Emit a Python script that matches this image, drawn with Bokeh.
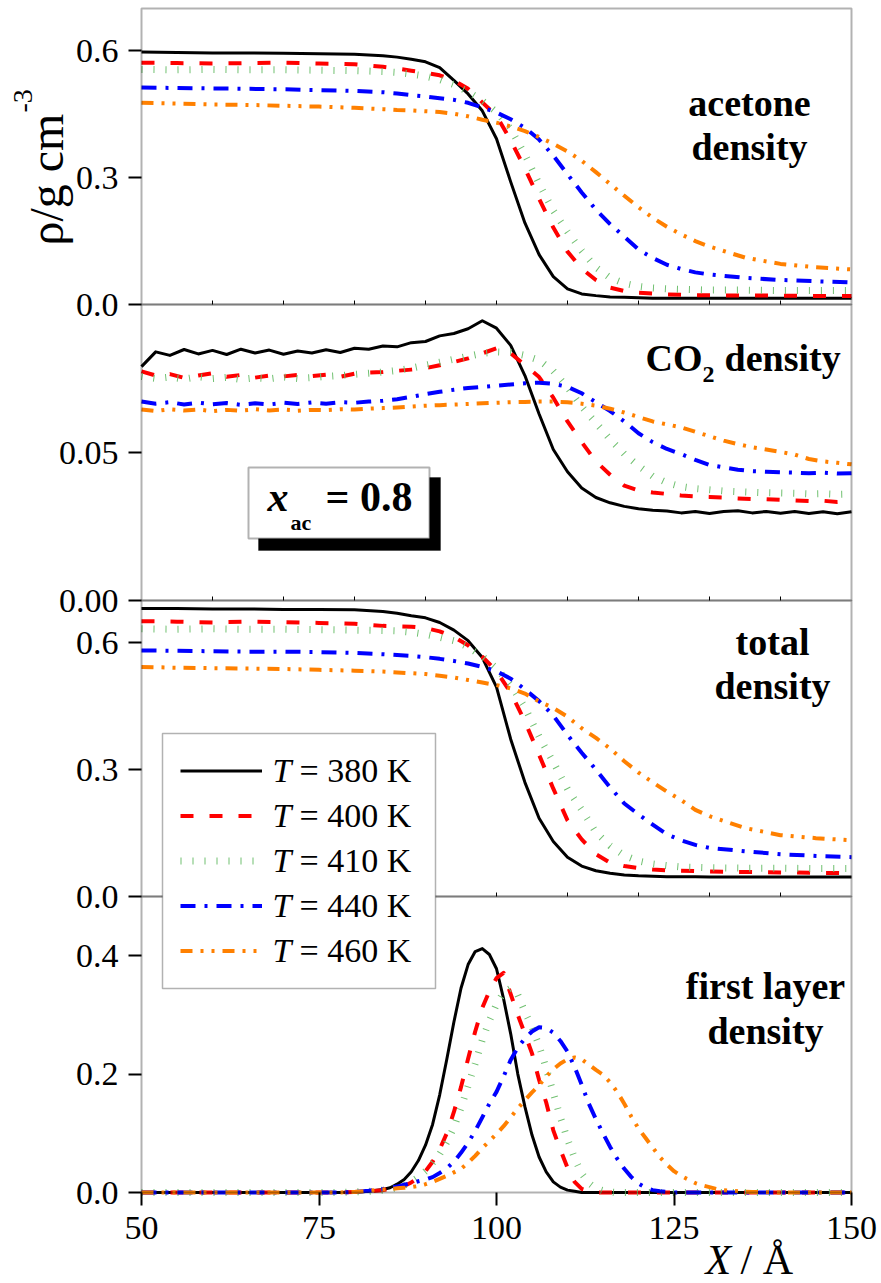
import math
from bokeh.plotting import figure
from bokeh.models import (Range1d, FixedTicker, Label, BoxAnnotation, LinearAxis,
                          PrintfTickFormatter, Legend, LegendItem)
from bokeh.embed import file_html
from bokeh.resources import INLINE

# ---------------------------------------------------------------- data
TEMPS = ["380", "400", "410", "440", "460"]

# acetone and total density profiles share this grid (Å)
X_PROFILE = [50, 55, 60, 65, 70, 75, 80,
             84, 86, 88, 90, 92, 94, 96, 98, 100, 102, 104, 106, 108, 110,
             112, 114, 116, 118, 120, 122, 124, 126, 128, 130,
             135, 140, 145, 150]

ACETONE_380 = [0.597, 0.596, 0.595, 0.595, 0.594, 0.593, 0.592,
               0.588, 0.585, 0.580, 0.574, 0.560, 0.530, 0.498, 0.458, 0.392, 0.290,
               0.193, 0.118, 0.066, 0.037, 0.025, 0.021, 0.018, 0.017, 0.016, 0.015,
               0.015, 0.015, 0.015, 0.015,
               0.015, 0.015, 0.015, 0.015]
ACETONE_400 = [0.572, 0.571, 0.570, 0.571, 0.572, 0.570, 0.568,
               0.562, 0.558, 0.553, 0.548, 0.542, 0.530, 0.510, 0.478, 0.446, 0.388,
               0.322, 0.250, 0.182, 0.125, 0.085, 0.058, 0.040, 0.032, 0.028, 0.026,
               0.024, 0.023, 0.022, 0.022,
               0.021, 0.021, 0.020, 0.020]
ACETONE_410 = [0.556, 0.555, 0.556, 0.555, 0.555, 0.554, 0.553,
               0.551, 0.549, 0.545, 0.540, 0.532, 0.520, 0.503, 0.482, 0.455, 0.415,
               0.355, 0.285, 0.222, 0.172, 0.127, 0.088, 0.063, 0.050, 0.043, 0.039,
               0.037, 0.036, 0.035, 0.034,
               0.034, 0.033, 0.033, 0.033]
ACETONE_440 = [0.513, 0.512, 0.511, 0.510, 0.509, 0.507, 0.505,
               0.502, 0.499, 0.495, 0.492, 0.488, 0.484, 0.477, 0.466, 0.454, 0.438,
               0.418, 0.390, 0.352, 0.308, 0.265, 0.224, 0.190, 0.160, 0.130, 0.110,
               0.094, 0.084, 0.076, 0.071,
               0.063, 0.058, 0.055, 0.052]
ACETONE_460 = [0.477, 0.475, 0.473, 0.472, 0.470, 0.468, 0.465,
               0.462, 0.460, 0.459, 0.457, 0.455, 0.451, 0.445, 0.437, 0.430, 0.421,
               0.410, 0.396, 0.380, 0.362, 0.340, 0.313, 0.285, 0.257, 0.230, 0.205,
               0.184, 0.166, 0.150, 0.137,
               0.111, 0.096, 0.088, 0.083]

TOTAL_380 = [0.681, 0.681, 0.680, 0.680, 0.679, 0.679, 0.678,
             0.674, 0.670, 0.664, 0.659, 0.648, 0.630, 0.605, 0.565, 0.495, 0.372,
             0.270, 0.185, 0.130, 0.093, 0.072, 0.061, 0.055, 0.051, 0.049, 0.048,
             0.047, 0.047, 0.047, 0.046,
             0.046, 0.046, 0.046, 0.046]
TOTAL_400 = [0.651, 0.650, 0.648, 0.650, 0.649, 0.647, 0.645,
             0.640, 0.639, 0.638, 0.635, 0.627, 0.614, 0.594, 0.567, 0.533, 0.482,
             0.414, 0.335, 0.255, 0.180, 0.135, 0.100, 0.080, 0.072, 0.067, 0.064,
             0.062, 0.061, 0.060, 0.059,
             0.058, 0.057, 0.056, 0.055]
TOTAL_410 = [0.633, 0.632, 0.633, 0.632, 0.632, 0.631, 0.630,
             0.629, 0.628, 0.625, 0.620, 0.613, 0.605, 0.590, 0.568, 0.540, 0.500,
             0.447, 0.378, 0.318, 0.254, 0.205, 0.152, 0.120, 0.097, 0.084, 0.077,
             0.073, 0.070, 0.069, 0.068,
             0.067, 0.067, 0.066, 0.066]
TOTAL_440 = [0.582, 0.581, 0.580, 0.579, 0.579, 0.578, 0.576,
             0.573, 0.571, 0.569, 0.566, 0.562, 0.557, 0.551, 0.543, 0.533, 0.515,
             0.490, 0.462, 0.428, 0.382, 0.340, 0.300, 0.258, 0.220, 0.194, 0.170,
             0.147, 0.133, 0.122, 0.115,
             0.107, 0.100, 0.096, 0.093]
TOTAL_460 = [0.543, 0.541, 0.540, 0.539, 0.538, 0.536, 0.534,
             0.532, 0.530, 0.528, 0.526, 0.522, 0.518, 0.512, 0.506, 0.500, 0.492,
             0.480, 0.461, 0.446, 0.425, 0.398, 0.375, 0.350, 0.320, 0.293, 0.270,
             0.248, 0.228, 0.205, 0.190,
             0.162, 0.145, 0.138, 0.133]

# CO2 profiles, every 2 Å from 50 to 150
X_CO2 = list(range(50, 151, 2))

CO2_380 = [0.0790, 0.0840, 0.0828, 0.0848, 0.0833, 0.0845, 0.0831, 0.0849, 0.0836, 0.0846,
           0.0832, 0.0843, 0.0836, 0.0847, 0.0838,
           0.0852, 0.0849, 0.0860, 0.0857, 0.0871, 0.0875, 0.0894, 0.0902, 0.0918, 0.0945, 0.0920,
           0.0862, 0.0760, 0.0630, 0.0510, 0.0435, 0.0380, 0.0348, 0.0330, 0.0318, 0.0310,
           0.0305, 0.0302, 0.0296, 0.0301, 0.0294, 0.0301, 0.0303, 0.0296, 0.0301, 0.0295,
           0.0301, 0.0294, 0.0300, 0.0293, 0.0300]
CO2_400 = [0.0774, 0.0760, 0.0765, 0.0752, 0.0760, 0.0768, 0.0756, 0.0762, 0.0753, 0.0760,
           0.0757, 0.0762, 0.0758, 0.0763, 0.0756,
           0.0766, 0.0770, 0.0772, 0.0776, 0.0780, 0.0785, 0.0795, 0.0806, 0.0818, 0.0835, 0.0852,
           0.0835, 0.0795, 0.0755, 0.0685, 0.0605, 0.0535, 0.0470, 0.0425, 0.0388, 0.0372,
           0.0365, 0.0360, 0.0355, 0.0352, 0.0350, 0.0348, 0.0345, 0.0343, 0.0342, 0.0340,
           0.0338, 0.0336, 0.0337, 0.0333, 0.0335]
CO2_410 = [0.0757, 0.0750, 0.0755, 0.0748, 0.0756, 0.0750, 0.0754, 0.0747, 0.0752, 0.0749,
           0.0755, 0.0750, 0.0753, 0.0757, 0.0760,
           0.0764, 0.0768, 0.0772, 0.0777, 0.0785, 0.0795, 0.0805, 0.0815, 0.0825, 0.0835, 0.0840,
           0.0838, 0.0828, 0.0812, 0.0775, 0.0720, 0.0655, 0.0600, 0.0545, 0.0495, 0.0455,
           0.0420, 0.0398, 0.0385, 0.0378, 0.0374, 0.0370, 0.0368, 0.0366, 0.0364, 0.0363,
           0.0362, 0.0360, 0.0361, 0.0359, 0.0360]
CO2_440 = [0.0672, 0.0665, 0.0670, 0.0662, 0.0668, 0.0663, 0.0667, 0.0661, 0.0666, 0.0662,
           0.0668, 0.0664, 0.0669, 0.0665, 0.0670,
           0.0668, 0.0672, 0.0675, 0.0680, 0.0688, 0.0697, 0.0705, 0.0712, 0.0718, 0.0722, 0.0726,
           0.0730, 0.0734, 0.0736, 0.0732, 0.0722, 0.0700, 0.0670, 0.0640, 0.0605, 0.0565,
           0.0535, 0.0512, 0.0495, 0.0475, 0.0458, 0.0450, 0.0442, 0.0437, 0.0435, 0.0433,
           0.0432, 0.0430, 0.0432, 0.0429, 0.0430]
CO2_460 = [0.0645, 0.0640, 0.0646, 0.0642, 0.0645, 0.0640, 0.0644, 0.0641, 0.0646, 0.0642,
           0.0645, 0.0641, 0.0644, 0.0643, 0.0646,
           0.0645, 0.0648, 0.0650, 0.0652, 0.0655, 0.0658, 0.0660, 0.0662, 0.0664, 0.0666, 0.0668,
           0.0670, 0.0671, 0.0672, 0.0672, 0.0670, 0.0665, 0.0658, 0.0648, 0.0635, 0.0620,
           0.0605, 0.0595, 0.0585, 0.0570, 0.0555, 0.0540, 0.0528, 0.0518, 0.0510, 0.0502,
           0.0493, 0.0478, 0.0470, 0.0465, 0.0460]

# first-layer density, 1 Å steps across the peaks
X_LAYER = [50, 60, 70, 78, 80, 82] + list(range(84, 133)) + [134, 136, 140, 150]

LAYER_380 = [0, 0, 0, 0, 0.0005, 0.002,
             0.005, 0.008, 0.014, 0.022, 0.035, 0.054, 0.080, 0.115, 0.165, 0.225,
             0.288, 0.345, 0.385, 0.407, 0.412, 0.402, 0.378, 0.327, 0.268, 0.200,
             0.145, 0.097, 0.060, 0.035, 0.018, 0.009, 0.004, 0.002,
             0, 0, 0, 0, 0, 0, 0, 0, 0, 0, 0, 0, 0, 0, 0, 0, 0, 0, 0, 0, 0,
             0, 0, 0, 0]
LAYER_400 = [0, 0, 0, 0, 0.001, 0.002,
             0.004, 0.006, 0.008, 0.011, 0.017, 0.025, 0.036, 0.052, 0.073, 0.100,
             0.136, 0.178, 0.226, 0.272, 0.312, 0.340, 0.362, 0.371, 0.335, 0.300,
             0.268, 0.235, 0.190, 0.152, 0.105, 0.072, 0.042, 0.018, 0.006, 0.002,
             0, 0, 0, 0, 0, 0, 0, 0, 0, 0, 0, 0, 0, 0, 0, 0, 0, 0, 0,
             0, 0, 0, 0]
LAYER_410 = [0, 0, 0, 0, 0.001, 0.002,
             0.004, 0.006, 0.008, 0.012, 0.018, 0.026, 0.036, 0.050, 0.065, 0.085,
             0.110, 0.143, 0.180, 0.218, 0.258, 0.290, 0.318, 0.338, 0.345, 0.334,
             0.305, 0.280, 0.248, 0.210, 0.168, 0.127, 0.090, 0.058, 0.032, 0.016,
             0.007, 0.003, 0.001,
             0, 0, 0, 0, 0, 0, 0, 0, 0, 0, 0, 0, 0, 0, 0, 0,
             0, 0, 0, 0]
LAYER_440 = [0, 0, 0, 0, 0.001, 0.003,
             0.006, 0.008, 0.010, 0.013, 0.016, 0.019, 0.022, 0.026, 0.033, 0.041,
             0.052, 0.067, 0.084, 0.104, 0.127, 0.150, 0.170, 0.196, 0.224, 0.245,
             0.260, 0.272, 0.279, 0.278, 0.270, 0.256, 0.238, 0.212, 0.182, 0.150,
             0.124, 0.100, 0.077, 0.057, 0.040, 0.026, 0.015, 0.008, 0.004, 0.002,
             0.001,
             0, 0, 0, 0, 0, 0, 0, 0,
             0, 0, 0, 0]
LAYER_460 = [0, 0, 0, 0, 0.001, 0.003,
             0.005, 0.006, 0.007, 0.008, 0.009, 0.011, 0.014, 0.018, 0.023, 0.028,
             0.034, 0.040, 0.050, 0.062, 0.075, 0.087, 0.099, 0.112, 0.127, 0.142,
             0.156, 0.169, 0.181, 0.196, 0.208, 0.218, 0.225, 0.228, 0.225, 0.216,
             0.207, 0.199, 0.186, 0.170, 0.150, 0.128, 0.108, 0.092, 0.076, 0.060,
             0.047, 0.036, 0.028, 0.022, 0.016, 0.012, 0.009, 0.006, 0.004,
             0.002, 0.001, 0, 0]

X_TICKS = [50, 75, 100, 125, 150]
EDGE_TICKS = [60, 70, 80, 90, 100, 110, 120, 130, 140]

# panels from top to bottom: range name, axis top, ticks, label format, x, series
PANELS = [
    ("acetone", 0.7, [0.0, 0.3, 0.6], "%.1f", X_PROFILE,
     [ACETONE_380, ACETONE_400, ACETONE_410, ACETONE_440, ACETONE_460]),
    ("co2", 0.1, [0.0, 0.05], "%.2f", X_CO2,
     [CO2_380, CO2_400, CO2_410, CO2_440, CO2_460]),
    ("total", 0.7, [0.0, 0.3, 0.6], "%.1f", X_PROFILE,
     [TOTAL_380, TOTAL_400, TOTAL_410, TOTAL_440, TOTAL_460]),
    ("layer", 0.5, [0.0, 0.2, 0.4], "%.1f", X_LAYER,
     [LAYER_380, LAYER_400, LAYER_410, LAYER_440, LAYER_460]),
]

# ---------------------------------------------------------------- styles
STYLES = [
    dict(line_color="#000000", line_width=3, line_dash="solid"),
    dict(line_color="#FF0000", line_width=4, line_dash="13 16"),
    dict(line_color="#70C070", line_width=7, line_dash="1 11"),
    dict(line_color="#0000FF", line_width=4, line_dash="15 9 3 9"),
    dict(line_color="#FF8000", line_width=4, line_dash="12 8 3 8 3 8"),
]
SERIF = "Liberation Serif"

# canvas and plot box (pixels)
W, H = 881, 1283
BOX_L, BOX_R, BOX_T, BOX_B = 141, 851, 8, 1192
X_MIN, X_MAX = 50, 150
N = len(PANELS)
BAND = (BOX_B - BOX_T) / N

# the frame fills the whole canvas; ranges are stretched so that
# 50..150 Å lands on the plot box and every panel gets its own band
xs_per_px = (X_MAX - X_MIN) / (BOX_R - BOX_L)
p = figure(width=W, height=H, output_backend="svg", toolbar_location=None,
           x_range=Range1d(X_MIN - BOX_L * xs_per_px, X_MAX + (W - BOX_R) * xs_per_px),
           y_range=Range1d(0, H), x_axis_type=None, y_axis_type=None,
           min_border=0, min_border_left=0, min_border_right=0,
           min_border_top=0, min_border_bottom=0)
p.xgrid.visible = False
p.ygrid.visible = False
p.outline_line_color = None
p.background_fill_color = "white"
p.border_fill_color = "white"


def sx(px):
    return px


def sy(py):
    return H - py


def screen_box(left, right, top, bottom, **kw):
    p.add_layout(BoxAnnotation(left=sx(left), right=sx(right), top=sy(top), bottom=sy(bottom),
                               left_units="screen", right_units="screen",
                               top_units="screen", bottom_units="screen", **kw))


def style_axis(ax):
    ax.major_tick_line_width = 2
    ax.major_tick_line_color = "black"
    ax.minor_tick_out = 0
    ax.minor_tick_in = 0
    ax.axis_line_color = None
    ax.major_label_text_font = SERIF
    ax.major_label_text_font_size = "34px"
    ax.major_label_text_color = "black"


legend_renderers = []
for k, (name, top, ticks, fmt, xs, series) in enumerate(PANELS):
    band_top = BOX_T + k * BAND
    band_bot = band_top + BAND
    per_px = top / BAND
    p.extra_y_ranges[name] = Range1d(start=-(H - band_bot) * per_px,
                                     end=top + band_top * per_px)
    rends = []
    for ys, st in zip(series, STYLES):
        rends.append(p.line(xs, ys, y_range_name=name, line_cap="butt",
                            line_join="round", **st))
    legend_renderers = rends

    # panel frame
    screen_box(BOX_L, BOX_R, band_top, band_bot,
               fill_alpha=0, line_color="black", line_width=2)

    # y ticks of this panel
    yax = LinearAxis(y_range_name=name, fixed_location=X_MIN,
                     ticker=FixedTicker(ticks=ticks, minor_ticks=[]),
                     formatter=PrintfTickFormatter(format=fmt))
    style_axis(yax)
    yax.major_tick_out = 13
    yax.major_tick_in = 0
    yax.major_label_standoff = 10
    p.add_layout(yax, "left")

    # small inward ticks along the lower edge of the upper panels
    if k < N - 1:
        eax = LinearAxis(y_range_name=name, fixed_location=0,
                         ticker=FixedTicker(ticks=EDGE_TICKS, minor_ticks=[]),
                         major_label_overrides={t: "" for t in EDGE_TICKS})
        style_axis(eax)
        eax.major_tick_in = 4
        eax.major_tick_out = 0
        eax.major_tick_line_width = 1
        p.add_layout(eax, "below")

# x axis under the last panel
xax = LinearAxis(y_range_name=PANELS[-1][0], fixed_location=0,
                 ticker=FixedTicker(ticks=X_TICKS, minor_ticks=[]))
style_axis(xax)
xax.major_tick_out = 13
xax.major_tick_in = 0
xax.major_label_standoff = 11
p.add_layout(xax, "below")


def text(x, y, s, size, style="normal", align="left", angle=0.0):
    # y is the wanted baseline; shift the anchor to account for text layout
    lift = 0.37 * size
    if angle:
        ax_, ay_ = x - lift, y
    else:
        ax_, ay_ = x, y - lift
    p.add_layout(Label(x=sx(ax_), y=sy(ay_), x_units="screen", y_units="screen",
                       text=s, text_font=SERIF, text_font_size=f"{size}px",
                       text_font_style=style, text_align=align,
                       text_baseline="alphabetic", text_color="black",
                       angle=angle))


# axis titles
text(64, 245, "ρ/g cm", 48, angle=math.pi / 2)
text(33, 112, "-3", 28, angle=math.pi / 2)
text(705, 1275, "X", 42, style="italic")
text(740, 1275, "/ Å", 42)

# panel captions
text(749, 117, "acetone", 38, "bold", "center")
text(749, 161, "density", 38, "bold", "center")
text(645, 372, "CO", 38, "bold")
text(702, 383, "2", 24, "bold")
text(724, 372, "density", 38, "bold")
text(772, 656, "total", 38, "bold", "center")
text(772, 700, "density", 38, "bold", "center")
text(765, 1000, "first layer", 38, "bold", "center")
text(765, 1045, "density", 38, "bold", "center")

# composition box with drop shadow
screen_box(258, 440, 477, 550, fill_color="black", fill_alpha=1,
           line_color="black", line_width=1)
screen_box(248, 429, 467, 538, fill_color="white", fill_alpha=1,
           line_color="black", line_width=2)
text(267, 512, "x", 42, "bold italic")
text(290, 530, "ac", 22, "bold")
text(325, 512, "= 0.8", 42, "bold")

# legend: white frame and labels first, Bokeh's (transparent, unpadded)
# legend draws the line samples on top, so the temperature symbol can be italic
LEG_L, LEG_B, LEG_PAD, ROW_H, ROW_GAP = 162, 988, 18, 39, 6
GLYPH_W, STANDOFF, LABEL_W = 82, 10, 145
leg_h = 2 * LEG_PAD + len(TEMPS) * ROW_H + (len(TEMPS) - 1) * ROW_GAP
leg_w = 2 * LEG_PAD + GLYPH_W + STANDOFF + LABEL_W
leg_top = LEG_B - leg_h
screen_box(LEG_L, LEG_L + leg_w, leg_top, LEG_B, fill_color="white", fill_alpha=1,
           line_color="black", line_width=1.5)

text_x = LEG_L + LEG_PAD + GLYPH_W + STANDOFF
for i, t in enumerate(TEMPS):
    base = leg_top + LEG_PAD + ROW_H / 2 + i * (ROW_H + ROW_GAP) + 12
    text(text_x, base, "T", 34, "italic")
    text(text_x + 27, base, f"= {t} K", 34)

items = [LegendItem(label=" ", renderers=[r]) for r in legend_renderers]
legend = Legend(items=items, location=(sx(LEG_L + LEG_PAD), sy(LEG_B - LEG_PAD)),
                margin=0, padding=0, spacing=ROW_GAP, glyph_width=GLYPH_W,
                glyph_height=ROW_H, label_height=ROW_H, label_width=LABEL_W,
                label_standoff=STANDOFF,
                label_text_font=SERIF, label_text_font_size="34px",
                border_line_color=None, background_fill_alpha=0)
p.add_layout(legend)

open("out.html", "w").write(file_html(p, INLINE))
